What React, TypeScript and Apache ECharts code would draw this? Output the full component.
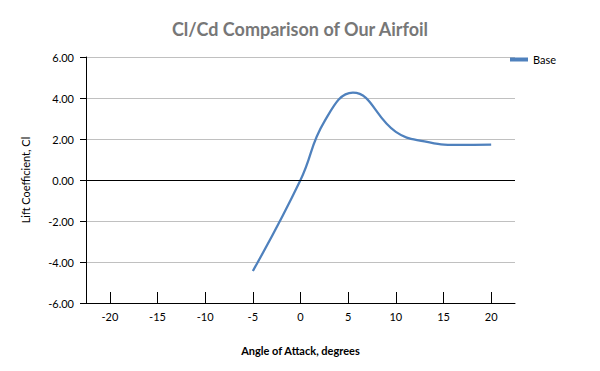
import React, { useEffect, useRef } from "react";
import * as echarts from "echarts";

const angles = [-5, 0, 2.5, 5.5, 10, 13, 16.5, 20];
const liftValues = [-4.44, 0.0, 2.85, 4.26, 2.35, 1.88, 1.71, 1.73];
const xTickValues = [-20, -15, -10, -5, 0, 5, 10, 15, 20];
const seriesName = "Base";

export default function App() {
  const ref = useRef<HTMLDivElement>(null);
  useEffect(() => {
    if (!ref.current) return;
    const chart = echarts.init(ref.current, null, { renderer: "svg" });
    const font = "Lato, 'Open Sans', sans-serif";
    chart.setOption({
      animation: false,
      textStyle: { fontFamily: font },
      title: {
        text: "Cl/Cd Comparison of Our Airfoil",
        left: "center",
        top: 15,
        textStyle: { fontFamily: font, fontSize: 18, fontWeight: "bold", color: "#777777" },
      },
      legend: {
        data: [seriesName],
        left: 505,
        top: 49,
        icon: "rect",
        itemWidth: 18,
        itemHeight: 4,
        itemGap: 8,
        textStyle: { fontFamily: font, fontSize: 11, color: "#000" },
      },
      grid: { left: 86, right: 85, top: 57, bottom: 68, containLabel: false },
      xAxis: {
        type: "value",
        min: -22.5,
        max: 22.5,
        name: "Angle of Attack, degrees",
        nameLocation: "middle",
        nameGap: 42,
        nameTextStyle: { fontFamily: font, fontSize: 11, fontWeight: "bold", color: "#000" },
        axisLine: { show: true, onZero: false, lineStyle: { color: "#000", width: 1 } },
        axisTick: { show: true, inside: true, length: 11, customValues: xTickValues, lineStyle: { color: "#000" } },
        axisLabel: { customValues: xTickValues, fontFamily: font, fontSize: 11, color: "#000", margin: 8 },
        splitLine: { show: false },
      },
      yAxis: {
        type: "value",
        min: -6,
        max: 6,
        interval: 2,
        name: "Lift Coefficient, Cl",
        nameLocation: "middle",
        nameGap: 55,
        nameTextStyle: { fontFamily: font, fontSize: 11, color: "#000" },
        axisLine: { show: true, onZero: false, lineStyle: { color: "#000", width: 1 } },
        axisTick: { show: true, length: 6, lineStyle: { color: "#000" } },
        axisLabel: {
          fontFamily: font,
          fontSize: 11,
          color: "#000",
          margin: 12,
          formatter: (v: number) => v.toFixed(2),
        },
        splitLine: { show: true, lineStyle: { color: "#c0c0c0", width: 1 } },
      },
      series: [
        {
          name: seriesName,
          type: "line",
          data: angles.map((a, i) => [a, liftValues[i]]),
          smooth: 0.45,
          showSymbol: false,
          symbol: "none",
          lineStyle: { color: "#4F81BD", width: 2.25 },
          itemStyle: { color: "#4F81BD" },
          markLine: {
            silent: true,
            symbol: ["none", "none"],
            label: { show: false },
            lineStyle: { color: "#000", width: 1, type: "solid" },
            data: [{ yAxis: 0 }],
          },
        },
      ],
    });
    return () => chart.dispose();
  }, []);
  return <div ref={ref} style={{ width: 600, height: 371, position: "absolute", left: 0, top: 0 }} />;
}
